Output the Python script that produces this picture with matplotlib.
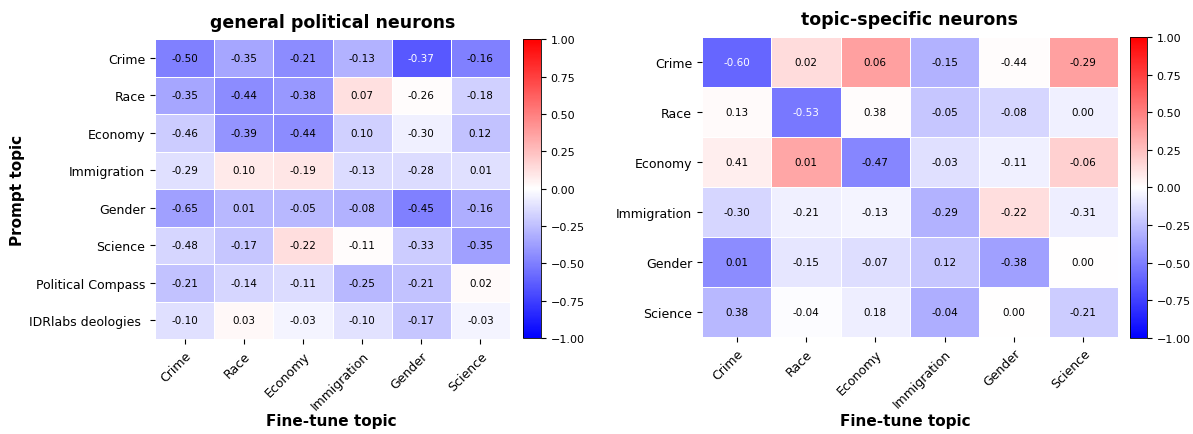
import numpy as np
import matplotlib
matplotlib.use("Agg")
import matplotlib.pyplot as plt

finetune_topics = ["Crime", "Race", "Economy", "Immigration", "Gender", "Science"]
prompt_general = ["Crime", "Race", "Economy", "Immigration", "Gender", "Science",
                  "Political Compass", "IDRlabs deologies "]
prompt_specific = ["Crime", "Race", "Economy", "Immigration", "Gender", "Science"]

# printed scores
general_vals = np.array([
    [-0.50, -0.35, -0.21, -0.13, -0.37, -0.16],
    [-0.35, -0.44, -0.38, 0.07, -0.26, -0.18],
    [-0.46, -0.39, -0.44, 0.10, -0.30, 0.12],
    [-0.29, 0.10, -0.19, -0.13, -0.28, 0.01],
    [-0.65, 0.01, -0.05, -0.08, -0.45, -0.16],
    [-0.48, -0.17, -0.22, -0.11, -0.33, -0.35],
    [-0.21, -0.14, -0.11, -0.25, -0.21, 0.02],
    [-0.10, 0.03, -0.03, -0.10, -0.17, -0.03],
])
specific_vals = np.array([
    [-0.60, 0.02, 0.06, -0.15, -0.44, -0.29],
    [0.13, -0.53, 0.38, -0.05, -0.08, 0.00],
    [0.41, 0.01, -0.47, -0.03, -0.11, -0.06],
    [-0.30, -0.21, -0.13, -0.29, -0.22, -0.31],
    [0.01, -0.15, -0.07, 0.12, -0.38, 0.00],
    [0.38, -0.04, 0.18, -0.04, 0.00, -0.21],
])

# colour values of the cells
general_shade = np.array([
    [-0.50, -0.35, -0.45, -0.30, -0.65, -0.50],
    [-0.35, -0.45, -0.40, 0.12, 0.01, -0.18],
    [-0.20, -0.42, -0.45, -0.18, -0.06, -0.24],
    [-0.12, 0.08, 0.10, -0.14, -0.14, -0.12],
    [-0.37, -0.28, -0.28, -0.30, -0.50, -0.32],
    [-0.16, -0.22, 0.13, 0.01, -0.20, -0.37],
    [-0.24, -0.16, -0.14, -0.28, -0.24, 0.02],
    [-0.12, 0.03, -0.04, -0.11, -0.22, -0.04],
])
specific_shade = np.array([
    [-0.60, 0.14, 0.37, -0.30, 0.01, 0.37],
    [0.02, -0.53, 0.01, -0.22, -0.16, -0.06],
    [0.07, 0.35, -0.47, -0.12, -0.06, 0.18],
    [-0.16, -0.06, -0.04, -0.30, 0.13, -0.07],
    [-0.45, -0.10, -0.13, -0.22, -0.37, 0.00],
    [-0.28, -0.01, -0.07, -0.32, 0.00, -0.20],
])


def heatmap(ax, cax, vals, shade, rows, title):
    mesh = ax.pcolormesh(shade, cmap="bwr", vmin=-1, vmax=1,
                         edgecolors="white", linewidth=0.5)
    ax.set_xlim(0, shade.shape[1])
    ax.set_ylim(shade.shape[0], 0)
    for i in range(vals.shape[0]):
        for j in range(vals.shape[1]):
            color = "white" if shade[i, j] < -0.52 else "black"
            ax.text(j + 0.5, i + 0.5, f"{vals[i, j]:.2f}", ha="center",
                    va="center", fontsize=7.5, color=color)
    ax.set_xticks(np.arange(len(finetune_topics)) + 0.5)
    ax.set_xticklabels(finetune_topics, rotation=45, ha="right",
                       rotation_mode="anchor", fontsize=9)
    ax.set_yticks(np.arange(len(rows)) + 0.5)
    ax.set_yticklabels(rows, fontsize=9)
    for s in ax.spines.values():
        s.set_visible(False)
    ax.set_title(title, fontsize=12.5, fontweight="bold", pad=9)
    cb = plt.colorbar(mesh, cax=cax)
    cb.set_ticks(np.arange(-1, 1.01, 0.25))
    cb.ax.tick_params(labelsize=8)
    cb.outline.set_linewidth(0.6)


fig = plt.figure(figsize=(11.93, 4.35), dpi=100)
ax1 = fig.add_axes([0.130, 0.218, 0.2975, 0.690])
cax1 = fig.add_axes([0.4384, 0.2207, 0.0151, 0.687])
ax2 = fig.add_axes([0.5884, 0.223, 0.3487, 0.690])
cax2 = fig.add_axes([0.947, 0.2207, 0.0143, 0.692])

heatmap(ax1, cax1, general_vals, general_shade, prompt_general,
        "general political neurons")
heatmap(ax2, cax2, specific_vals, specific_shade, prompt_specific,
        "topic-specific neurons")

# axis titles placed in figure coordinates
fig.text(0.278, 0.03, "Fine-tune topic", ha="center", va="center",
         fontsize=11, fontweight="bold")
fig.text(0.759, 0.03, "Fine-tune topic", ha="center", va="center",
         fontsize=11, fontweight="bold")
fig.text(0.0145, 0.563, "Prompt topic", ha="center", va="center",
         rotation=90, fontsize=11, fontweight="bold")

fig.savefig("out.png", dpi=100)
